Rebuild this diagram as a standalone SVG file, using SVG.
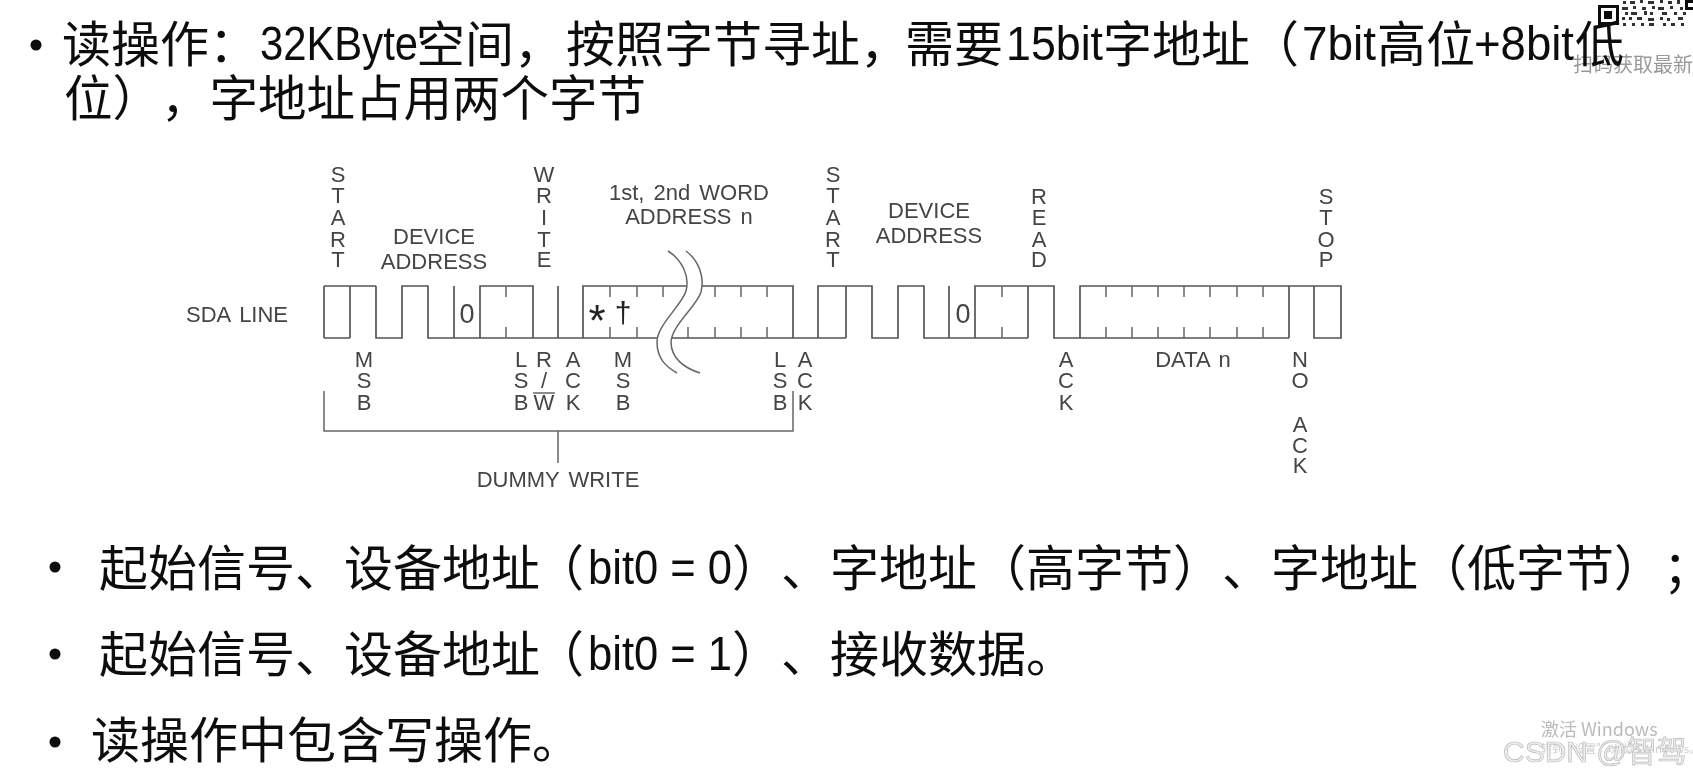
<svg xmlns="http://www.w3.org/2000/svg" width="1693" height="781" viewBox="0 0 1693 781">
<defs><filter id="soft" x="-2%" y="-2%" width="104%" height="104%"><feGaussianBlur stdDeviation="0.5"/></filter></defs>
<style>
.b{font-family:"Noto Sans CJK SC","Noto Sans",sans-serif;font-size:49px;fill:#111;text-spacing-trim:space-all;font-feature-settings:"chws" 0,"halt" 0,"palt" 0}
.l{font-family:"Liberation Sans",Arial,sans-serif;fill:#111;font-size:48px}
.d{font-family:"Liberation Sans",Arial,sans-serif;font-size:22px;fill:#444;word-spacing:3px}
.m{text-anchor:middle}
.w{fill:none;stroke:#555;stroke-width:1.7}
.t{fill:none;stroke:#666;stroke-width:1.5}
</style>
<rect width="1693" height="781" fill="#fff"/>
<g id="qr" filter="url(#soft)">
<path fill="#111" fill-rule="evenodd" d="M1598 5h21v20h-21zM1601 8v14h15v-14zM1604 11h8v8h-8zM1685 0h8v3h-5v4h5v3h-8z"/>
<path fill="#333" d="M1623 1h3v3h-3zM1630 1h5v3h-5zM1640 0h3v3h-3zM1648 1h6v3h-6zM1660 0h3v3h-3zM1668 1h4v3h-4zM1677 0h3v4h-3zM1622 7h6v3h-6zM1633 6h3v3h-3zM1642 7h4v3h-4zM1652 6h3v3h-3zM1658 7h6v3h-6zM1670 6h3v3h-3zM1680 7h3v3h-3zM1625 12h3v3h-3zM1631 12h6v3h-6zM1644 11h3v4h-3zM1650 12h3v3h-3zM1662 12h5v3h-5zM1674 12h3v3h-3zM1683 12h3v3h-3zM1622 17h3v3h-3zM1629 17h3v3h-3zM1637 17h5v3h-5zM1648 18h6v3h-6zM1660 17h3v3h-3zM1667 18h3v3h-3zM1678 17h5v3h-5zM1623 23h3v3h-3zM1632 23h3v3h-3zM1641 23h3v3h-3zM1649 23h5v3h-5zM1663 23h3v3h-3zM1671 23h4v3h-4zM1681 23h3v3h-3z"/>
<text x="1573" y="72" font-family="'Noto Sans CJK SC',sans-serif" font-size="20" fill="#999">扫码获取最新</text>
</g>
<g id="text" filter="url(#soft)">
<circle cx="36" cy="45" r="5.5" fill="#111"/>
<text class="b" x="62" y="62">读操作：</text>
<text class="l" x="260" y="60" textLength="158" lengthAdjust="spacingAndGlyphs">32KByte</text>
<text class="b" x="416" y="62">空间，</text>
<text class="b" x="566" y="62">按照字节寻址，</text>
<text class="b" x="905" y="62">需要</text>
<text class="l" x="1006" y="60" textLength="97" lengthAdjust="spacingAndGlyphs">15bit</text>
<text class="b" x="1103" y="62">字地址（</text>
<text class="l" x="1302" y="60" textLength="74" lengthAdjust="spacingAndGlyphs">7bit</text>
<text class="b" x="1377" y="62">高位</text>
<text class="l" x="1474" y="60" textLength="100" lengthAdjust="spacingAndGlyphs">+8bit</text>
<text class="b" x="1575" y="62">低</text>
<text class="b" x="64" y="116" style="font-size:48.5px">位），字地址占用两个字节</text>

<circle cx="55" cy="567" r="5.5" fill="#111"/>
<text class="b" x="99" y="586">起始信号、设备地址</text>
<text class="b" x="535" y="586">（</text>
<text class="l" x="588" y="584" textLength="144" lengthAdjust="spacingAndGlyphs" xml:space="preserve">bit0 = 0</text>
<text class="b" x="732" y="586">）、字地址（高字节）、字地址（低字节）；</text>

<circle cx="55" cy="654" r="5.5" fill="#111"/>
<text class="b" x="99" y="672">起始信号、设备地址</text>
<text class="b" x="535" y="672">（</text>
<text class="l" x="588" y="670" textLength="144" lengthAdjust="spacingAndGlyphs" xml:space="preserve">bit0 = 1</text>
<text class="b" x="732" y="672">）、接收数据。</text>

<circle cx="55" cy="742" r="5.5" fill="#111"/>
<text class="b" x="91" y="758">读操作中包含写操作。</text>
</g>
<g id="diagram" filter="url(#soft)">
<g id="connectors">
<path class="w" d="M324 286H376M324 338H350M324 286V338M350 286V338M376 286V338H402V286H428V338H658M454 286V338M480 338V286H533V338M558 286V338M583 338V286H686M701 286H793V338M672 338H846M818 338V286H872V338H898V286H924V338H1028M949 286V338M975 338V286H1054V338H1289M1028 286V338M846 286V338M1080 338V286H1341V338H1314V286M1289 286V338"/>
<path class="t" d="M506 286V297M506 327V338M610 286V297M610 327V338M637 286V297M637 327V338M663 286V297M715 286V297M741 286V297M767 286V297M688 327V338M715 327V338M741 327V338M767 327V338M1002 286V297M1002 327V338M1106 286V297M1106 327V338M1132 286V297M1132 327V338M1158 286V297M1158 327V338M1184 286V297M1184 327V338M1210 286V297M1210 327V338M1237 286V297M1237 327V338M1263 286V297M1263 327V338"/>
<path fill="#fff" stroke="none" d="M668 251C682 260 690 276 686 291C682 305 657 325 657 342C657 358 665 366 677 373L700 373C684 368 671 358 671 342C672 325 697 306 701 292C705 276 698 260 686 251Z"/>
<path class="t" d="M668 251C682 260 690 276 686 291C682 305 657 325 657 342C657 358 665 366 677 373M686 251C698 260 705 276 701 292C697 306 672 325 671 342C671 358 684 368 700 373"/>
<path class="t" d="M324 391V431H793V391M558 431V463M533 393H555"/>
</g>
<g id="labels" class="d">
<text class="d m" x="338" y="182">S</text><text class="d m" x="338" y="203">T</text><text class="d m" x="338" y="225">A</text><text class="d m" x="338" y="247">R</text><text class="d m" x="338" y="267">T</text>
<text class="d m" x="434" y="244">DEVICE</text><text class="d m" x="434" y="269">ADDRESS</text>
<text class="d m" x="544" y="182">W</text><text class="d m" x="544" y="203">R</text><text class="d m" x="544" y="225">I</text><text class="d m" x="544" y="247">T</text><text class="d m" x="544" y="267">E</text>
<text class="d m" x="689" y="200" xml:space="preserve">1st, 2nd WORD</text><text class="d m" x="689" y="224">ADDRESS n</text>
<text class="d m" x="833" y="182">S</text><text class="d m" x="833" y="203">T</text><text class="d m" x="833" y="225">A</text><text class="d m" x="833" y="247">R</text><text class="d m" x="833" y="267">T</text>
<text class="d m" x="929" y="218">DEVICE</text><text class="d m" x="929" y="243">ADDRESS</text>
<text class="d m" x="1039" y="204">R</text><text class="d m" x="1039" y="225">E</text><text class="d m" x="1039" y="247">A</text><text class="d m" x="1039" y="267">D</text>
<text class="d m" x="1326" y="204">S</text><text class="d m" x="1326" y="225">T</text><text class="d m" x="1326" y="247">O</text><text class="d m" x="1326" y="267">P</text>
<text class="d" x="186" y="322">SDA LINE</text>
<text class="d m" x="467" y="323" style="font-size:27px">0</text>
<text class="d m" x="963" y="323" style="font-size:27px">0</text>
<text class="d m" x="597" y="336" style="font-size:44px;fill:#222">*</text>
<text class="d m" x="623" y="323" style="font-size:30px;fill:#222">†</text>
<text class="d m" x="364" y="367">M</text><text class="d m" x="364" y="388">S</text><text class="d m" x="364" y="410">B</text>
<text class="d m" x="521" y="367">L</text><text class="d m" x="521" y="388">S</text><text class="d m" x="521" y="410">B</text>
<text class="d m" x="544" y="367">R</text><text class="d m" x="544" y="388">/</text><text class="d m" x="544" y="410">W</text>
<text class="d m" x="573" y="367">A</text><text class="d m" x="573" y="388">C</text><text class="d m" x="573" y="410">K</text>
<text class="d m" x="623" y="367">M</text><text class="d m" x="623" y="388">S</text><text class="d m" x="623" y="410">B</text>
<text class="d m" x="780" y="367">L</text><text class="d m" x="780" y="388">S</text><text class="d m" x="780" y="410">B</text>
<text class="d m" x="805" y="367">A</text><text class="d m" x="805" y="388">C</text><text class="d m" x="805" y="410">K</text>
<text class="d m" x="1066" y="367">A</text><text class="d m" x="1066" y="388">C</text><text class="d m" x="1066" y="410">K</text>
<text class="d m" x="1193" y="367">DATA n</text>
<text class="d m" x="1300" y="367">N</text><text class="d m" x="1300" y="388">O</text><text class="d m" x="1300" y="432">A</text><text class="d m" x="1300" y="453">C</text><text class="d m" x="1300" y="473">K</text>
<text class="d m" x="558" y="487">DUMMY WRITE</text>
</g>
</g>
<g id="watermark" filter="url(#soft)">
<text x="1541" y="736" font-family="'Noto Sans CJK SC',sans-serif" font-size="18" fill="#bbb">激活 Windows</text>
<text x="1541" y="753" font-family="'Noto Sans CJK SC',sans-serif" font-size="11" fill="#ccc">转到“设置”以激活 Windows。</text>
<text x="1503" y="762" font-family="'Liberation Sans','Noto Sans CJK SC',sans-serif" font-size="30" fill="#eee" stroke="#bbb" stroke-width="0.7">CSDN @智驾</text>
</g>
</svg>
